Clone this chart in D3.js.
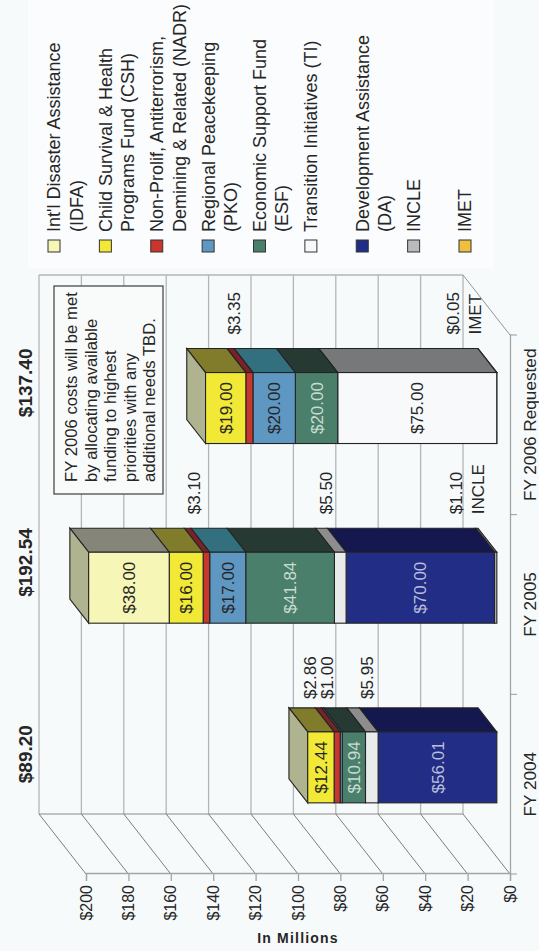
<!DOCTYPE html>
<html>
<head>
<meta charset="utf-8">
<script src="https://cdn.jsdelivr.net/npm/d3@7"></script>
<style>
body { margin: 0; background: #f7fafb; }
svg { display: block; }
text { font-family: "Liberation Sans", Arial, sans-serif; fill: #262626; }
</style>
</head>
<body>
<div id="container"></div>
<script>
var categories = ["FY 2004", "FY 2005", "FY 2006 Requested"];
var totals = ["$89.20", "$192.54", "$137.40"];
var valueTicks = [0, 20, 40, 60, 80, 100, 120, 140, 160, 180, 200];

// stacked bottom to top
var seriesKeys = ["INCLE", "IMET", "DA", "TI", "ESF", "PKO", "NADR", "CSH", "IDFA"];
var INCLE = [0, 1.10, 0];
var IMET = [0, 0, 0.05];
var DA = [56.01, 70.00, 0];
var TI = [5.95, 5.50, 75.00];
var ESF = [10.94, 41.84, 20.00];
var PKO = [1.00, 17.00, 20.00];
var NADR = [2.86, 3.10, 3.35];
var CSH = [12.44, 16.00, 19.00];
var IDFA = [0, 38.00, 0];

var legendKeys = ["IDFA", "CSH", "NADR", "PKO", "ESF", "TI", "DA", "INCLE", "IMET"];
var legendLabels = [
  ["Int'l Disaster Assistance", "(IDFA)"],
  ["Child Survival & Health", "Programs Fund (CSH)"],
  ["Non-Prolif, Antiterrorism,", "Demining & Related (NADR)"],
  ["Regional Peacekeeping", "(PKO)"],
  ["Economic Support Fund", "(ESF)"],
  ["Transition Initiatives (TI)"],
  ["Development Assistance", "(DA)"],
  ["INCLE"],
  ["IMET"]
];
var note = ["FY 2006 costs will be met", "by allocating available", "funding to highest", "priorities with any", "additional needs TBD."];

var faceColor = {IDFA: "#f6f6b6", CSH: "#f1e936", NADR: "#c8362d", PKO: "#5f97c3", ESF: "#4a806b",
                 TI: "#e8eaec", DA: "#222d85", INCLE: "#b9bcbf", IMET: "#efc040"};
var sideColor = {IDFA: "#85857a", CSH: "#807c2c", NADR: "#7c2128", PKO: "#32707f", ESF: "#263a33",
                 TI: "#8d8d8f", DA: "#14184f", INCLE: "#666666", IMET: "#8a7020"};
var lightText = {DA: "#b9bfdc", ESF: "#c9dcd2"};

var values = {INCLE: INCLE, IMET: IMET, DA: DA, TI: TI, ESF: ESF, PKO: PKO, NADR: NADR, CSH: CSH, IDFA: IDFA};
var table = categories.map(function(c, i) {
  var row = {category: c};
  seriesKeys.forEach(function(k) { row[k] = values[k][i]; });
  return row;
});
var stacked = d3.stack().keys(seriesKeys)(table);

var width = 951, height = 539;

// the whole page is a chart turned on its side, so draw it upright then rotate
var svg = d3.select("#container").append("svg")
    .attr("width", 539)
    .attr("height", 951);

var g = svg.append("g")
    .attr("transform", "translate(0," + width + ") rotate(-90)");

var x = d3.scaleBand().domain(categories).range([77, 616]).paddingInner(0.605).paddingOuter(0.3025);
var y = d3.scaleLinear().domain([0, 200]).range([510, 86]);

// depth of the 3d box
var wallX = 60, wallY = -47;
var barFront = 0.28, barBack = 0.68;

function pt(px, value, d) {
  return [px + wallX * d, y(value) + wallY * d];
}
function poly(points) {
  return points.map(function(p) { return p[0] + "," + p[1]; }).join(" ");
}
// the FY 2006 transition block is printed whiter than the others
function faceOf(key, i) {
  return key == "TI" && i == 2 ? "#f7f9fa" : faceColor[key];
}
function sideOf(key, i) {
  return key == "TI" && i == 2 ? "#77787a" : sideColor[key];
}

g.append("rect").attr("x", 683).attr("y", 28).attr("width", 268).attr("height", 466).attr("fill", "#fafcfd");

// back wall
g.selectAll(".wall").data(valueTicks).enter().append("line")
    .attr("x1", x.range()[0] + wallX).attr("x2", x.range()[1] + wallX)
    .attr("y1", function(d) { return y(d) + wallY; })
    .attr("y2", function(d) { return y(d) + wallY; })
    .attr("stroke", "#b4b5b6").attr("stroke-width", 1.3);

g.append("line")
    .attr("x1", x.range()[0] + wallX).attr("x2", x.range()[0] + wallX)
    .attr("y1", y(0) + wallY).attr("y2", y(200) + wallY)
    .attr("stroke", "#8a8a8a");
g.append("line")
    .attr("x1", x.range()[1] + wallX).attr("x2", x.range()[1] + wallX)
    .attr("y1", y(0) + wallY).attr("y2", y(200) + wallY)
    .attr("stroke", "#b4b5b6").attr("stroke-width", 1.3);

// floor and side wall slants
g.selectAll(".slant").data(valueTicks).enter().append("line")
    .attr("x1", x.range()[0]).attr("x2", x.range()[0] + wallX)
    .attr("y1", function(d) { return y(d); })
    .attr("y2", function(d) { return y(d) + wallY; })
    .attr("stroke", "#6e6e6e").attr("stroke-width", 0.9);
g.append("line")
    .attr("x1", x.range()[1]).attr("x2", x.range()[1] + wallX)
    .attr("y1", y(0)).attr("y2", y(0) + wallY)
    .attr("stroke", "#8a8a8a").attr("stroke-width", 0.9);

// axes
var yAxis = d3.axisLeft(y).tickValues(valueTicks).tickSize(7).tickPadding(4).tickFormat(function(d) { return "$" + d; });
var yG = g.append("g").attr("transform", "translate(" + x.range()[0] + ",0)").call(yAxis);
yG.selectAll("text").attr("font-size", 16).attr("font-family", null);

var xAxis = d3.axisBottom(x).tickSize(0).tickPadding(14);
var xG = g.append("g").attr("transform", "translate(0," + y(0) + ")").call(xAxis);
xG.selectAll("text").attr("font-size", 17.2).attr("font-family", null);

var edges = categories.map(function(c) { return x(c) - x.step() * x.paddingInner() / 2; });
edges.push(x.range()[1]);
xG.selectAll(".edge").data(edges).enter().append("line")
    .attr("class", "edge")
    .attr("x1", function(d) { return d; }).attr("x2", function(d) { return d; })
    .attr("y1", 0).attr("y2", 7)
    .attr("stroke", "#9a9a9a");

[yG, xG].forEach(function(a) {
  a.selectAll("path, .tick line").attr("stroke", "#a4a5a6").attr("stroke-width", 1.3);
});

var outline = "#232323";

// side faces
stacked.forEach(function(s) {
  s.forEach(function(d, i) {
    if (d[1] - d[0] <= 0) return;
    var right = x(categories[i]) + x.bandwidth();
    g.append("polygon")
        .attr("points", poly([pt(right, d[0], barFront), pt(right, d[1], barFront), pt(right, d[1], barBack), pt(right, d[0], barBack)]))
        .attr("fill", sideOf(s.key, i))
        .attr("stroke", outline).attr("stroke-width", 1.1);
  });
});

// top of each stack
table.forEach(function(row, i) {
  var total = d3.sum(seriesKeys, function(k) { return row[k]; });
  var left = x(row.category), right = left + x.bandwidth();
  g.append("polygon")
      .attr("points", poly([pt(left, total, barFront), pt(right, total, barFront), pt(right, total, barBack), pt(left, total, barBack)]))
      .attr("fill", "#b0b38f")
      .attr("stroke", outline).attr("stroke-width", 1.1);
});

// front faces
stacked.forEach(function(s) {
  s.forEach(function(d, i) {
    if (d[1] - d[0] <= 0) return;
    var left = x(categories[i]), right = left + x.bandwidth();
    var a = pt(left, d[1], barFront), b = pt(right, d[0], barFront);
    g.append("rect")
        .attr("x", a[0]).attr("y", a[1])
        .attr("width", b[0] - a[0]).attr("height", b[1] - a[1])
        .attr("fill", faceOf(s.key, i))
        .attr("stroke", outline).attr("stroke-width", 1.1);
  });
});

// labels on the faces, small ones go above the bar
var labelGap = [9, 14, 14];
var labelLift = {"FY 2004": {TI: -5, PKO: -14, NADR: -27}, "FY 2005": {TI: -14, NADR: -13, INCLE: -40}, "FY 2006 Requested": {NADR: -16, IMET: -44}};
stacked.forEach(function(s) {
  s.forEach(function(d, i) {
    var v = d[1] - d[0];
    if (v <= 0) return;
    var cat = categories[i];
    var mid = (d[0] + d[1]) / 2;
    var label = "$" + v.toFixed(2);
    if (v >= 10) {
      var p = pt(x(cat) + x.bandwidth() / 2, mid, barFront);
      g.append("text")
          .attr("x", p[0]).attr("y", p[1]).attr("dy", "0.36em")
          .attr("text-anchor", "middle").attr("font-size", 17)
          .style("fill", lightText[s.key] || "#262626")
          .text(label);
    } else {
      var q = pt(x(cat) + x.bandwidth(), mid, barBack);
      var ly = pt(0, mid, barFront)[1] + labelLift[cat][s.key];
      g.append("text")
          .attr("x", q[0] + labelGap[i]).attr("y", ly).attr("dy", "0.36em")
          .attr("font-size", 17)
          .text(label);
      if (s.key == "INCLE" || s.key == "IMET") {
        g.append("text")
            .attr("x", q[0] + labelGap[i]).attr("y", ly + 22).attr("dy", "0.36em")
            .attr("font-size", 17)
            .text(s.key);
      }
    }
  });
});

// totals along the top
var totalShift = [30, 42, 42];
g.selectAll(".total").data(totals).enter().append("text")
    .attr("class", "total")
    .attr("x", function(d, i) { return x(categories[i]) + x.bandwidth() / 2 + totalShift[i]; })
    .attr("y", 25).attr("dy", "0.36em")
    .attr("text-anchor", "middle").attr("font-size", 19).attr("font-weight", "bold")
    .text(function(d) { return d; });

// axis title reads upside down on the page
g.append("text")
    .attr("transform", "translate(13,298) rotate(90)")
    .attr("text-anchor", "middle").attr("dy", "0.36em")
    .attr("font-size", 14).attr("font-weight", "bold").attr("letter-spacing", 1.2)
    .text("In Millions");

// note box
g.append("rect")
    .attr("x", 457).attr("y", 54).attr("width", 208).attr("height", 109)
    .attr("fill", "#f9fbfb").attr("stroke", "#3c3c3c").attr("stroke-width", 1.2);
g.selectAll(".note").data(note).enter().append("text")
    .attr("class", "note")
    .attr("x", 469)
    .attr("y", function(d, i) { return 71 + i * 19.5; })
    .attr("dy", "0.36em").attr("font-size", 16.7)
    .text(function(d) { return d; });

// legend
var ly = d3.scalePoint().domain(legendKeys).range([54, 465]);
var legend = g.selectAll(".legend").data(legendKeys).enter().append("g")
    .attr("class", "legend")
    .attr("transform", function(d) { return "translate(705," + ly(d) + ")"; });
legend.append("rect")
    .attr("x", -6).attr("y", -6).attr("width", 12).attr("height", 12)
    .attr("fill", function(d) { return d == "TI" ? "#f7f9fa" : faceColor[d]; })
    .attr("stroke", "#333").attr("stroke-width", 1);
legend.each(function(d, i) {
  d3.select(this).selectAll("text").data(legendLabels[i]).enter().append("text")
      .attr("x", 14)
      .attr("y", function(t, j) { return j * 22.5; })
      .attr("dy", "0.36em").attr("font-size", 18)
      .text(function(t) { return t; });
});
</script>
</body>
</html>
